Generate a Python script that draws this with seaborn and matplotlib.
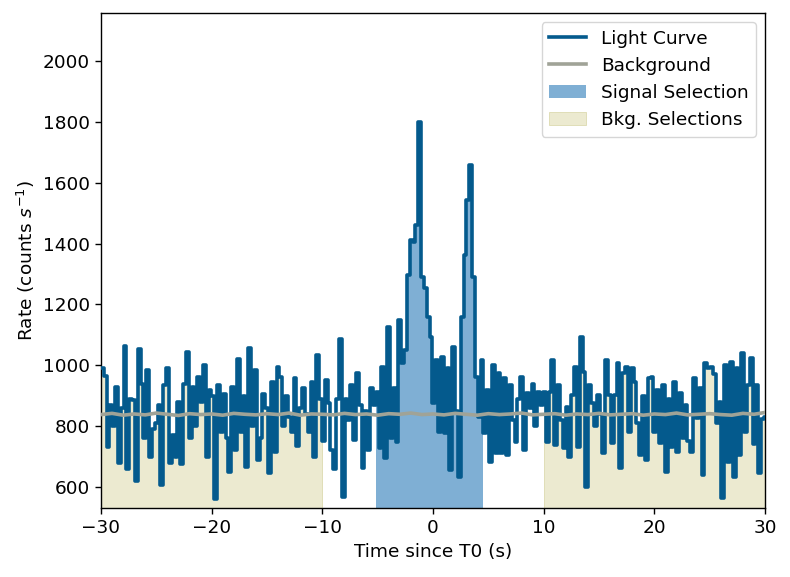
import numpy as np
import pandas as pd
import seaborn as sns
from matplotlib import pyplot as plt

# light curve: 0.256 s bins starting at -30 s (rates in counts/s)
bin_width = 0.256
t_start = -30.0
rates = [
    990, 965, 730, 870, 800, 930, 680, 860, 1065, 660,
    890, 885, 620, 1055, 940, 760, 985, 700, 790, 810,
    870, 605, 935, 990, 680, 770, 700, 880, 675, 940,
    1045, 760, 930, 800, 960, 880, 1000, 700, 920,
    900, 560, 935, 780, 905, 760, 650, 930, 720, 1020,
    780, 900, 665, 1058, 800, 985, 690, 760, 905, 860,
    645, 945, 715, 995, 960, 800, 900, 830, 780, 958,
    735, 860, 925, 840, 780, 945, 700, 1035, 890, 750,
    950, 875, 722, 660, 890, 1088, 568, 890, 820, 935,
    755, 974, 870, 661, 850, 722, 924, 870, 913, 727,
    995, 694, 1127, 760, 924, 749, 1149, 1006, 1050, 1297,
    1412, 1405, 1461, 1800, 1291, 1253, 1160, 1094, 875, 1017,
    782, 1028, 776, 990, 656, 1061, 850, 634, 1160, 1362,
    1543, 1658, 1291, 963, 831, 1017, 776, 919, 683, 1001,
    711, 974, 711, 957, 705, 935, 820, 749, 890, 963,
    722, 908, 860, 940, 800, 913, 870, 913,
    749, 913, 1017, 738, 935, 820, 727, 864, 700, 902,
    995, 730, 1094, 979, 601, 935, 875, 800, 902, 840,
    711, 1017, 902, 743, 902, 1006, 661, 974, 995, 782,
    990, 946, 809, 705, 900, 689, 957, 962, 780,
    920, 743, 935, 650, 890, 733, 946, 716, 908, 760,
    870, 750, 716, 957, 827, 925, 640, 1006, 990, 995,
    970, 809, 880, 563, 1001, 683, 1012, 634, 990, 705,
    1039, 780, 935, 1023, 740, 935, 645, 825, 830,
]

# background model sampled every second from -30 to 30 s
bkg_times = list(range(-30, 31))
bkg_rates = [
    838, 842, 836, 840, 837, 843, 839, 835, 841, 838,
    840, 836, 842, 839, 837, 841, 838, 843, 836, 840,
    839, 837, 842, 838, 840, 836, 841, 839, 843, 838,
    840, 837, 842, 839, 836, 841, 838, 840, 843, 837,
    839, 841, 836, 840, 838, 842, 837, 839, 841, 836,
    840, 838, 843, 837, 839, 841, 838, 836, 842, 839, 845,
]

signal_range = (-5.17, 4.56)
bkg_ranges = [(-30.0, -10.0), (10.0, 30.0)]

lc_color = '#045a8d'
bkg_color = '#a0a397'
sig_fill = '#7fafd4'
bkg_fill = '#ecead0'

edges = t_start + bin_width * np.arange(len(rates) + 1)
lc_df = pd.DataFrame({"Time": edges, "Rate": rates + [rates[-1]]})
bkg_df = pd.DataFrame({"Time": bkg_times, "Rate": bkg_rates})


def selection_xy(lo, hi):
    inner = edges[(edges > lo) & (edges < hi)]
    x = np.concatenate([[lo], inner, [hi]])
    idx = np.clip(np.searchsorted(edges, x, side='right') - 1, 0, len(rates) - 1)
    y = np.array(rates)[idx]
    return x, y


plt.rcParams['font.family'] = ['DejaVu Sans']
plt.rcParams['font.size'] = 13.3

fig = plt.figure(figsize=(7.9, 5.77), dpi=100)
ax = fig.add_axes([0.1278, 0.1196, 0.8406, 0.858])
ylo, yhi = 531, 2158
ax.set_ylim(ylo, yhi)
ax.set_xlim(-30, 30)

sns.lineplot(data=lc_df, x="Time", y="Rate", ax=ax, color=lc_color, lw=2.6,
             drawstyle='steps-post', estimator=None, sort=False,
             label='Light Curve', zorder=3)
sns.lineplot(data=bkg_df, x="Time", y="Rate", ax=ax, color=bkg_color, lw=2.6,
             estimator=None, sort=False, label='Background', zorder=4)

x, y = selection_xy(*signal_range)
ax.fill_between(x, ylo, y, step='post', color=sig_fill, lw=0,
                label='Signal Selection', zorder=2)
for i, (lo, hi) in enumerate(bkg_ranges):
    x, y = selection_xy(lo, hi)
    ax.fill_between(x, ylo, y, step='post', facecolor=bkg_fill,
                    edgecolor='#dcdab0', lw=0.6,
                    label='Bkg. Selections' if i == 0 else None, zorder=1)

ax.set_ylim(ylo, yhi)
ax.set_xlim(-30, 30)
ax.set_xticks(range(-30, 31, 10))
ax.set_yticks(range(600, 2001, 200))
ax.set_xlabel('Time since T0 (s)')
ax.set_ylabel('Rate (counts $s^{-1}$)')
ax.tick_params(labelsize=13.3, direction='out', length=4.5, width=1, colors='black')
for s in ax.spines.values():
    s.set_linewidth(1.0)
    s.set_color('black')

ax.legend(loc='upper right', fontsize=13.3, frameon=True, handlelength=2.0)

fig.savefig('out.png', dpi=100)
